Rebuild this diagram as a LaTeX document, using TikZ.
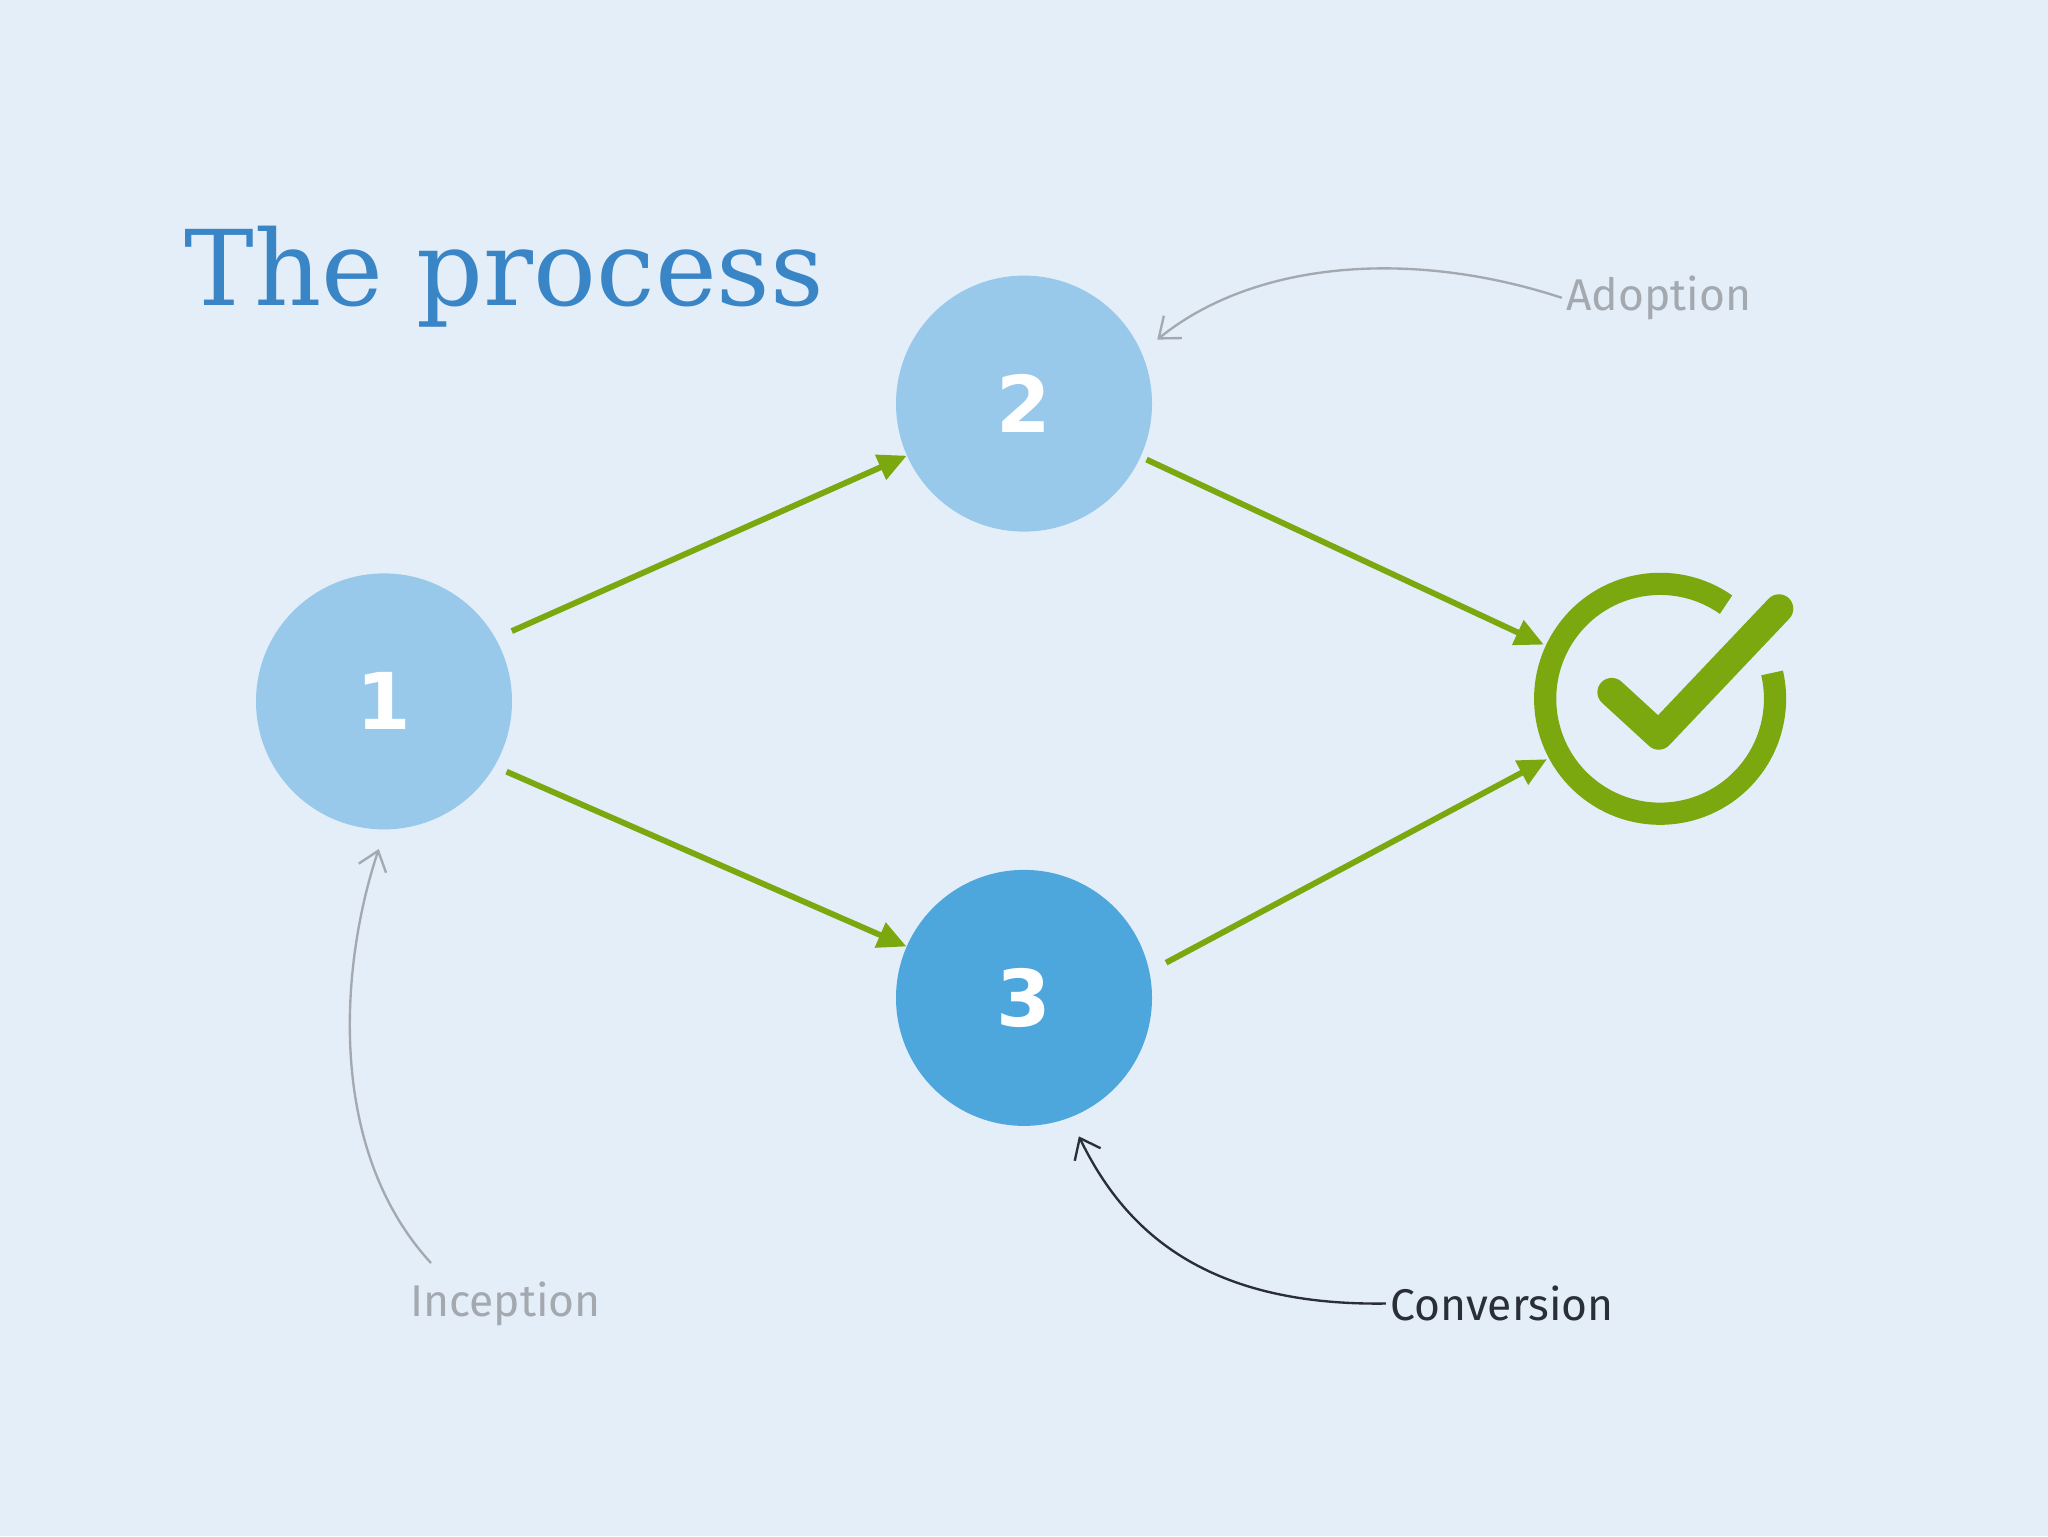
\documentclass[tikz,border=0pt]{standalone}
\usepackage{fontspec}
\setmainfont{DejaVu Serif}
\newfontfamily\numf{DejaVu Sans}
\newfontfamily\handf{Fira Sans}
\usetikzlibrary{arrows.meta}
\definecolor{bg}{HTML}{E3EEF9}
\definecolor{lb}{HTML}{99C9EA}
\definecolor{db}{HTML}{4DA6DC}
\definecolor{gr}{HTML}{7AA80E}
\definecolor{tb}{HTML}{3A85C6}
\definecolor{gy}{HTML}{A4A9B0}
\definecolor{dk}{HTML}{2A2E36}
\begin{document}
\begin{tikzpicture}[x=1pt,y=-1pt,
  stage/.style={circle,minimum size=196pt,inner sep=0pt,text=white,font=\numf\bfseries\fontsize{60}{60}\selectfont},
  flow/.style={gr,line width=4.5pt,-{Triangle[length=22pt,width=20pt]},shorten <=2pt},
  note/.style={-{Straight Barb[length=14pt,width=22pt]},line width=1.8pt},
  lab/.style={font=\handf\fontsize{34}{34}\selectfont}]
\fill[bg] (0,0) rectangle (1568,1176);
\node[anchor=west,text=tb,font=\fontsize{80}{80}\selectfont] (title) at (138,212) {The process};
\node[stage,fill=lb] (n1) at (294,537) {1};
\node[stage,fill=lb] (n2) at (784,309) {2};
\node[stage,fill=db] (n3) at (784,764) {3};
\node[circle,minimum size=196pt,inner sep=0pt] (ok) at (1271,535) {};
\draw[gr,line width=17pt] (1271,535) ++(-55:88) arc[start angle=-55,end angle=-373,radius=88];
\draw[gr,line width=22pt,line cap=round,line join=round] (1234,530) -- (1270,563) -- (1362,466);
\draw[flow] (390,484) -- (n2);
\draw[flow] (876,351) -- (ok);
\draw[flow] (386,590) -- (n3);
\draw[flow] (891,738) -- (ok);
\node[lab,text=gy] (adop) at (1270,228) {Adoption};
\node[lab,text=gy] (incep) at (387,998) {Inception};
\node[lab,text=dk] (conv) at (1150,998) {Conversion};
\draw[note,gy] (adop.west) .. controls (1080,190) and (960,200) .. (886,260);
\draw[note,gy] (330,967) .. controls (250,880) and (260,740) .. (290,650);
\draw[note,dk] (conv.west) .. controls (920,1000) and (860,940) .. (826,870);
\end{tikzpicture}
\end{document}
